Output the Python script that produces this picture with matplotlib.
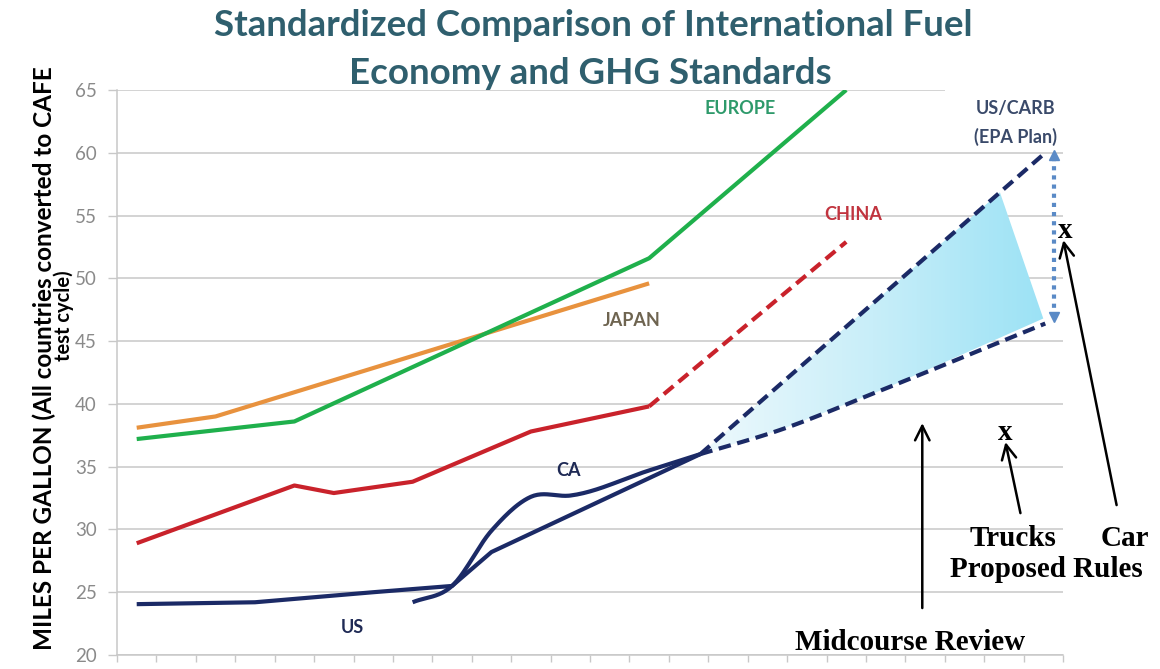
import numpy as np
import matplotlib
matplotlib.use("Agg")
import matplotlib.pyplot as plt
from matplotlib.patches import Polygon, Rectangle
from matplotlib.colors import LinearSegmentedColormap

plt.rcParams['font.family'] = ['Lato', 'DejaVu Sans']

# Category axis: one slot per model year (index 0 = first year)
years = list(range(2002, 2026))

japan_x = [0, 2, 13]
japan_mpg = [38.1, 39.0, 49.6]

europe_x = [0, 4, 13, 18]
europe_mpg = [37.2, 38.6, 51.6, 65.0]

china_x = [0, 4, 5, 7, 10, 13]
china_mpg = [28.9, 33.5, 32.9, 33.8, 37.8, 39.8]
china_proj_x = [13, 18]
china_proj_mpg = [39.8, 52.9]

us_x = [0, 3, 6, 8, 9, 14.3]
us_mpg = [24.05, 24.2, 25.0, 25.5, 28.2, 36.0]

ca_x = [7, 8, 9, 10, 11, 13, 14.3]
ca_mpg = [24.2, 25.5, 29.9, 32.6, 32.7, 34.7, 36.0]

epa_high_x = [14.3, 23.05]
epa_high_mpg = [36.0, 60.0]
epa_low_x = [14.3, 16.3, 18.9, 23.05]
epa_low_mpg = [36.0, 37.9, 41.1, 46.4]

# Corners of the shaded midcourse-review band
band_top = (21.9, 56.85)
band_bottom = (23.0, 46.8)

# Range of the US/CARB plan between car and truck rules
plan_x = 23.26
plan_range = [46.9, 59.8]

y_ticks = [20, 25, 30, 35, 40, 45, 50, 55, 60, 65]


def smooth(x, y, n=24):
    """Piecewise cubic Hermite curve through the points."""
    x = np.asarray(x, float)
    y = np.asarray(y, float)
    m = np.gradient(y, x)
    xs, ys = [], []
    t = np.linspace(0, 1, n, endpoint=False)
    h00 = 2 * t**3 - 3 * t**2 + 1
    h10 = t**3 - 2 * t**2 + t
    h01 = -2 * t**3 + 3 * t**2
    h11 = t**3 - t**2
    for k in range(len(x) - 1):
        h = x[k + 1] - x[k]
        xs.append(x[k] + t * h)
        ys.append(h00 * y[k] + h10 * h * m[k] + h01 * y[k + 1] + h11 * h * m[k + 1])
    xs.append([x[-1]])
    ys.append([y[-1]])
    return np.concatenate(xs), np.concatenate(ys)


fig = plt.figure(figsize=(11.6, 6.69), dpi=100)
ax = fig.add_axes([117 / 1160, 1 - 655 / 669, 946 / 1160, 565 / 669])

GRID = '#c8c8c8'
NAVY = '#1b2a66'
LW = 3.0

# Axes styling
ax.set_xlim(-0.5, len(years) - 0.5)
ax.set_ylim(20, 65)
ax.set_yticks(y_ticks)
ax.set_yticklabels([str(v) for v in y_ticks])
ax.set_xticks(np.arange(-0.5, len(years), 1.0))
ax.set_xticklabels([])
ax.tick_params(axis='x', direction='out', length=5, width=1, color=GRID)
ax.tick_params(axis='y', direction='out', length=6.5, width=1, color=GRID,
               labelcolor='#8a8a8a', labelsize=13.5, pad=8)
ax.yaxis.grid(True, color=GRID, lw=1.1)
ax.set_axisbelow(True)
for side in ('top', 'right'):
    ax.spines[side].set_visible(False)
for side in ('left', 'bottom'):
    ax.spines[side].set_color(GRID)
    ax.spines[side].set_linewidth(1.1)

# White box behind the US/CARB label hides the end of the top gridline
ax.add_patch(Rectangle((20.5, 64.0), 3.2, 2.5, facecolor='white',
                       edgecolor='none', zorder=1, clip_on=False))

# Shaded band with a left-to-right gradient
verts = [(epa_high_x[0], epa_high_mpg[0]), band_top, band_bottom]
verts += list(zip(epa_low_x[::-1], epa_low_mpg[::-1]))[1:]
band = Polygon(verts, closed=True, facecolor='none', edgecolor='none')
ax.add_patch(band)
cmap = LinearSegmentedColormap.from_list('band', ['#eef9fc', '#c8eef9', '#9be2f5'])
grad = np.linspace(0, 1, 256).reshape(1, -1)
im = ax.imshow(grad, extent=[epa_high_x[0], band_bottom[0] + 0.1, 34, 58],
               aspect='auto', cmap=cmap, origin='lower', zorder=1.5)
im.set_clip_path(band)
ax.set_xlim(-0.5, len(years) - 0.5)
ax.set_ylim(20, 65)

# Country standards
ax.plot(japan_x, japan_mpg, color='#e8923e', lw=LW, zorder=3, solid_capstyle='butt')
ax.plot(europe_x, europe_mpg, color='#1fb04c', lw=LW, zorder=3, solid_capstyle='butt')
ax.plot(china_x, china_mpg, color='#c9222b', lw=LW, zorder=3, solid_capstyle='butt')
ax.plot(china_proj_x, china_proj_mpg, color='#c9222b', lw=LW, zorder=3,
        dashes=(3, 1.6))
ax.plot(us_x, us_mpg, color=NAVY, lw=LW, zorder=3, solid_capstyle='butt')
sx, sy = smooth(ca_x, ca_mpg)
ax.plot(sx, sy, color=NAVY, lw=LW, zorder=3, solid_capstyle='butt')
ax.plot(epa_high_x, epa_high_mpg, color=NAVY, lw=LW, zorder=3, dashes=(3, 1.6))
sx, sy = smooth(epa_low_x, epa_low_mpg)
ax.plot(sx, sy, color=NAVY, lw=LW, zorder=3, dashes=(3, 1.6))

# Dotted double arrow for the plan range
ax.plot([plan_x, plan_x], plan_range, color='#5a8ac6', lw=3, ls=(0, (1, 1.2)),
        zorder=4, clip_on=False)
ax.plot([plan_x], [plan_range[1]], marker='^', ms=7, color='#5a8ac6', zorder=4, clip_on=False)
ax.plot([plan_x], [plan_range[0]], marker='v', ms=7, color='#5a8ac6', zorder=4, clip_on=False)

# Series labels
lab = dict(fontsize=13, fontweight='bold', ha='center', va='center', zorder=5)
ax.text(15.31, 63.55, 'EUROPE', color='#2e9a6b', **lab)
ax.text(18.18, 55.1, 'CHINA', color='#c1343f', **lab)
ax.text(12.57, 46.67, 'JAPAN', color='#6e6450', **lab)
ax.text(10.95, 34.73, 'CA', color='#1f2a55', **lab)
ax.text(5.46, 22.23, 'US', color='#1f2a55', **lab)
ax.text(22.29, 63.55, 'US/CARB', color='#3a4a6a', **lab)
ax.text(22.29, 61.24, '(EPA Plan)', color='#3a4a6a', **lab)

# Hand annotations
serif = dict(family='Liberation Serif', fontweight='bold', fontsize=21,
             color='black', ha='center', va='center', zorder=6)
ax.text(22.04, 37.7, 'x', **serif)
ax.text(23.56, 53.84, 'x', **serif)
ax.text(22.24, 29.3, 'Trucks', clip_on=False, **serif)
ax.text(25.08, 29.3, 'Car', clip_on=False, **serif)
ax.text(23.08, 26.77, 'Proposed Rules', clip_on=False, **serif)
ax.text(19.62, 21.03, 'Midcourse Review', clip_on=False, **serif)

arrow = dict(arrowstyle='->', lw=1.8, color='black', mutation_scale=26,
             shrinkA=0, shrinkB=0)
ax.annotate('', xy=(19.93, 38.47), xytext=(19.93, 23.74), arrowprops=arrow,
            annotation_clip=False, zorder=6)
ax.annotate('', xy=(22.04, 36.96), xytext=(22.42, 31.3), arrowprops=arrow,
            annotation_clip=False, zorder=6)
ax.annotate('', xy=(23.51, 53.04), xytext=(24.86, 31.94), arrowprops=arrow,
            annotation_clip=False, zorder=6)

# Title and axis label
title_kw = dict(color='#2f5f6e', fontsize=26.4, fontweight='bold', ha='center', va='center')
fig.text(593 / 1160, 1 - 26 / 669, 'Standardized Comparison of International Fuel', **title_kw)
fig.text(590 / 1160, 1 - 73 / 669, 'Economy and GHG Standards', **title_kw)

ylab = dict(color='black', fontweight='bold', rotation=90, ha='center', va='center')
fig.text(44 / 1160, 1 - 358 / 669, 'MILES PER GALLON (All countries converted to CAFE',
         fontsize=17.5, **ylab)
fig.text(64 / 1160, 1 - 316 / 669, 'test cycle)', fontsize=14.5, **ylab)

fig.savefig('out.png', dpi=100)
